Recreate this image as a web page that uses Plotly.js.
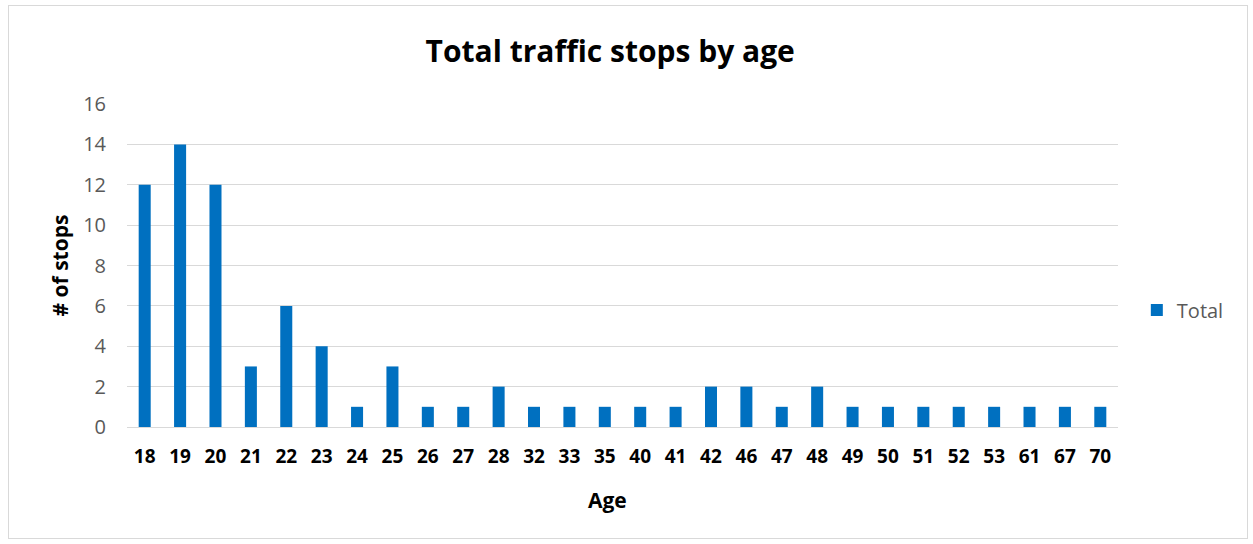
<!DOCTYPE html>
<html>
<head>
<meta charset="utf-8">
<script src="https://cdn.plot.ly/plotly-3.0.1.min.js"></script>
<style>
html,body{margin:0;padding:0;background:#fff;}
#frame{position:absolute;left:8px;top:5px;width:1240px;height:534px;border:1px solid #d9d9d9;box-sizing:border-box;pointer-events:none;}
#chart{position:absolute;left:0;top:0;width:1253px;height:544px;}
</style>
</head>
<body>
<div id="chart"></div>
<div id="frame"></div>
<script>
const ages = ["18","19","20","21","22","23","24","25","26","27","28","32","33","35","40","41","42","46","47","48","49","50","51","52","53","61","67","70"];
const totals = [12,14,12,3,6,4,1,3,1,1,2,1,1,1,1,1,2,2,1,2,1,1,1,1,1,1,1,1];
const yTicks = [0,2,4,6,8,10,12,14,16];

const font = "Open Sans, Noto Sans, sans-serif";
Plotly.newPlot('chart', [{
  type: 'bar',
  x: ages,
  y: totals,
  name: 'Total',
  marker: {color: '#0070c0'},
  width: 0.34
}], {
  width: 1253, height: 544,
  margin: {l: 127, r: 135, t: 104, b: 117},
  paper_bgcolor: '#fff', plot_bgcolor: '#fff',
  font: {family: font, color: '#595959'},
  title: {text: '<b>Total traffic stops by age</b>', font: {family: font, size: 30, color: '#000'}, x: 0.487, xanchor: 'center', y: 0.905, yanchor: 'middle'},
  xaxis: {
    type: 'category',
    tickfont: {family: font, size: 19, color: '#000', weight: 'bold'},
    ticklabelstandoff: 16,
    showline: false, ticks: '', showgrid: false
  },
  yaxis: {
    range: [0, 16],
    tickvals: yTicks,
    ticktext: yTicks.map(String),
    tickfont: {family: font, size: 20, color: '#595959'},
    ticklabelstandoff: 20,
    title: {text: '<b># of stops</b>', font: {family: font, size: 21, color: '#000'}, standoff: 8},
    gridcolor: '#d9d9d9', gridwidth: 1, zeroline: true, zerolinecolor: '#d9d9d9', zerolinewidth: 1,
    ticks: '', showline: false
  },
  annotations: [{
    text: '<b>Age</b>', xref: 'paper', yref: 'paper', x: 0.485, y: -0.226,
    xanchor: 'center', yanchor: 'middle', showarrow: false,
    font: {family: font, size: 21, color: '#000'}
  }],
  showlegend: true,
  legend: {x: 1.019, y: 0.362, xanchor: 'left', yanchor: 'middle', font: {family: font, size: 20, color: '#595959'}, itemwidth: 30}
}, {displayModeBar: false, staticPlot: true});
</script>
</body>
</html>
